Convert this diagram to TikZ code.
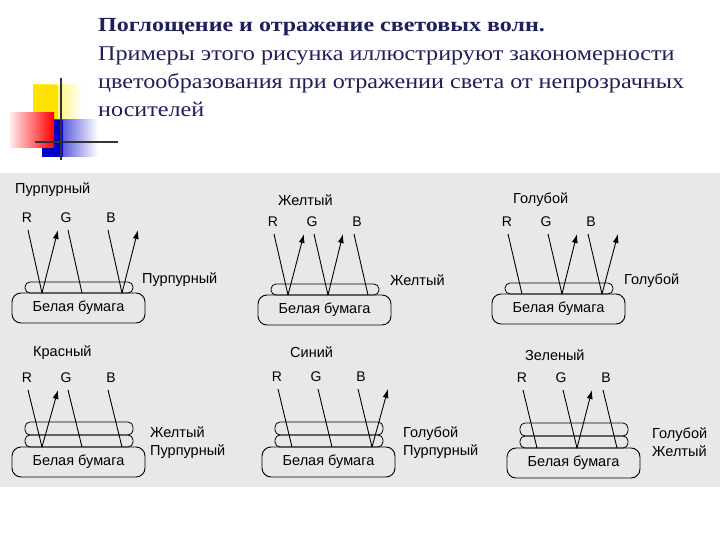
\documentclass[tikz,border=0pt]{standalone}
\usepackage{fontspec}
\setmainfont{Liberation Serif}
\newfontfamily\arialf{Liberation Sans}
\newfontfamily\widef[FakeStretch=1.15]{Liberation Serif}
\newfontfamily\widebf[FakeStretch=1.2,FakeBold=0]{Liberation Serif Bold}
\usetikzlibrary{arrows.meta}
\definecolor{bg}{HTML}{E9E7EA}
\definecolor{ttl}{HTML}{1F1F5A}
\tikzset{
 lt/.style={font=\arialf\fontsize{14}{14}\selectfont,inner sep=0pt},
 ray/.style={line width=0.9pt},
 refl/.style={line width=0.9pt,-{Latex[length=9pt,width=6pt]}},
 band/.style={draw,line width=0.8pt,rounded corners=5pt},
 paper/.style={draw,line width=0.9pt,rounded corners=9pt,minimum width=133pt,minimum height=30pt,font=\arialf\fontsize{14.5}{14.5}\selectfont,inner sep=0pt},
 lab/.style={font=\arialf\fontsize{14.5}{18}\selectfont,anchor=north west,align=left,inner sep=0pt},
 ptl/.style={font=\arialf\fontsize{14.5}{14.5}\selectfont,anchor=west,inner sep=0pt}
}
% #1 name #2 dx #3 letter y #4 box top #5 bands #6 title #7 R #8 G #9 B
\newcommand\panel[9]{%
\begin{scope}[shift={(#2,0)}]
\node[ptl] (#1t) at (\ptx,\pty) {#6};
\node[lt] (#1R) at (27,#3) {R};
\node[lt] (#1G) at (66,#3) {G};
\node[lt] (#1B) at (111,#3) {B};
\ifnum#5=1
 \draw[band] (25,{#4-11}) rectangle (133,#4);
\else
 \draw[band] (25,{#4-25}) rectangle (133,{#4-12});
 \draw[band] (25,{#4-12}) rectangle (133,#4);
\fi
\node[paper] (#1box) at (78.5,{#4+15}) {Белая бумага};
\node[lab] (#1lab) at (\plx,{#4-20}) {\plabel};
\coordinate (#1sR) at (28,{#3+12}); \coordinate (#1hR) at (42,#4); \coordinate (#1eR) at (58,{#3+12});
\coordinate (#1sG) at (68,{#3+12}); \coordinate (#1hG) at (82,#4); \coordinate (#1eG) at (97,{#3+12});
\coordinate (#1sB) at (108,{#3+12}); \coordinate (#1hB) at (122,#4); \coordinate (#1eB) at (138,{#3+12});
\draw[ray] (#1sR) -- (#1hR);
\draw[ray] (#1sG) -- (#1hG);
\draw[ray] (#1sB) -- (#1hB);
\ifnum#7=1 \draw[refl] (#1hR) -- (#1eR); \fi
\ifnum#8=1 \draw[refl] (#1hG) -- (#1eG); \fi
\ifnum#9=1 \draw[refl] (#1hB) -- (#1eB); \fi
\end{scope}}
\begin{document}
\begin{tikzpicture}[x=1pt,y=-1pt]
\useasboundingbox (0,0) rectangle (720,540);
\fill[white] (0,0) rectangle (720,540);
\fill[bg] (0,173) rectangle (720,487);
% logo
\shade[left color=yellow!85!orange,right color=white] (33,85) rectangle (82,128);
\fill[yellow!85!orange] (33,85) rectangle (58,128);
\shade[left color=blue!80!black,right color=white] (42,120) rectangle (98,157);
\fill[blue!80!black] (42,120) rectangle (63,157);
\shade[left color=red!8,right color=red] (10,113) rectangle (54,148);
\draw[line width=2pt,black!80] (61,78) -- (61,160);
\draw[line width=2pt,black!80] (35,142) -- (118,142);
% text
\node[anchor=west,inner sep=0pt,text=ttl,font=\widebf\fontsize{20}{20}\selectfont] (h) at (98,27) {Поглощение и отражение световых волн.};
\node[anchor=north west,inner sep=0pt,text=ttl,align=left,font=\widef\fontsize{21}{28}\selectfont] (p) at (98,47) {Примеры этого рисунка иллюстрируют закономерности\\цветообразования при отражении света от непрозрачных\\носителей};
% panels
\def\ptx{15}\def\pty{190}\def\plx{142}\def\plabel{Пурпурный}
\panel{a}{0}{218}{293}{1}{Пурпурный}{1}{0}{1}
\def\ptx{32}\def\pty{200}\def\plx{144}\def\plabel{Желтый}
\panel{b}{246}{222}{295}{1}{Желтый}{1}{1}{0}
\def\ptx{33}\def\pty{200}\def\plx{144}\def\plabel{Голубой}
\panel{c}{480}{222}{294}{1}{Голубой}{0}{1}{1}
\def\ptx{33}\def\pty{353}\def\plx{150}\def\plabel{Желтый\\Пурпурный}
\panel{d}{0}{378}{447}{2}{Красный}{1}{0}{0}
\def\ptx{40}\def\pty{352}\def\plx{153}\def\plabel{Голубой\\Пурпурный}
\panel{e}{250}{377}{447}{2}{Синий}{0}{0}{1}
\def\ptx{30}\def\pty{355}\def\plx{157}\def\plabel{Голубой\\Желтый}
\panel{f}{495}{378}{448}{2}{Зеленый}{0}{1}{0}
\end{tikzpicture}
\end{document}
